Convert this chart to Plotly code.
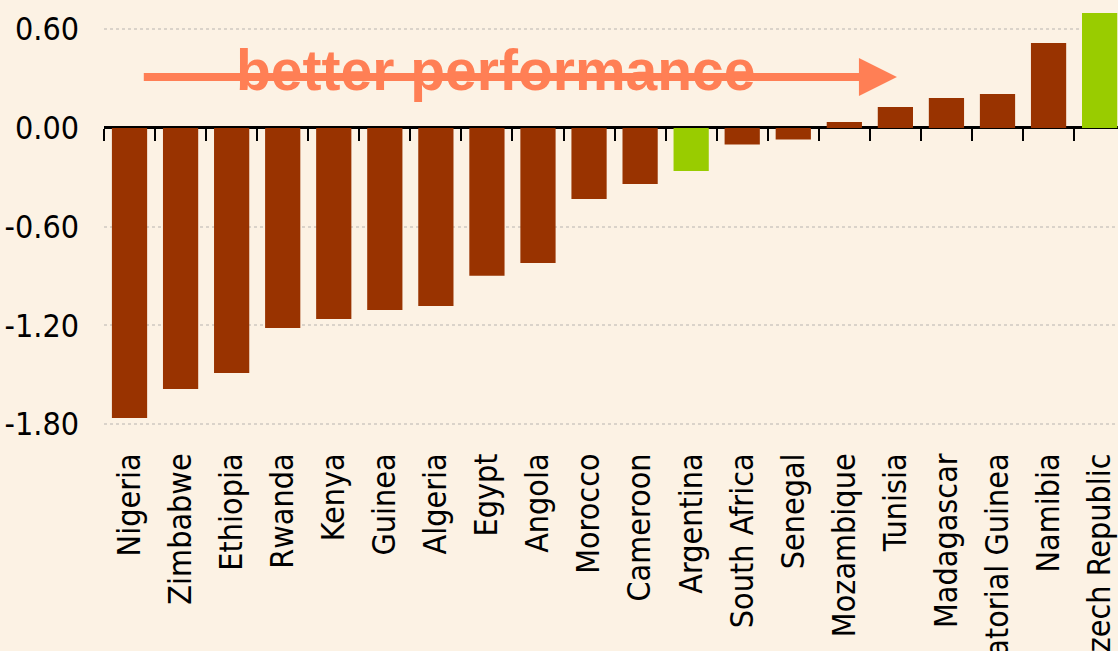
import plotly.graph_objects as go

COUNTRIES = ['Nigeria', 'Zimbabwe', 'Ethiopia', 'Rwanda', 'Kenya', 'Guinea', 'Algeria',
             'Egypt', 'Angola', 'Morocco', 'Cameroon', 'Argentina', 'South Africa',
             'Senegal', 'Mozambique', 'Tunisia', 'Madagascar', 'Equatorial Guinea',
             'Namibia', 'Czech Republic']
SCORES = [-1.763, -1.587, -1.489, -1.216, -1.161, -1.106, -1.082, -0.898, -0.821,
          -0.432, -0.340, -0.261, -0.100, -0.070, 0.036, 0.128, 0.182, 0.207,
          0.517, 0.699]
HIGHLIGHT = ['Argentina', 'Czech Republic']
Y_TICKS = [0.6, 0.0, -0.6, -1.2, -1.8]

BROWN = '#993300'
GREEN = '#99CC00'
CORAL = '#FF7F55'
BG = '#FCF2E4'
NARROW = 'Liberation Sans Narrow, Arial Narrow, DejaVu Sans Condensed, sans-serif'

colors = [GREEN if c in HIGHLIGHT else BROWN for c in COUNTRIES]

fig = go.Figure()
fig.add_trace(go.Bar(x=COUNTRIES, y=SCORES, marker_color=colors, marker_line_width=0,
                     width=0.69, hoverinfo='skip'))
# invisible copy on the second x axis, only so that its ticks sit on the zero line
fig.add_trace(go.Scatter(x=COUNTRIES, y=[0] * len(COUNTRIES), xaxis='x2', mode='markers',
                         marker_opacity=0, hoverinfo='skip', showlegend=False))

y_range = [-1.897, 0.778]
x_range = [-0.5, 19.36]
zero_pos = (0 - y_range[0]) / (y_range[1] - y_range[0])

# arrow then text on top
fig.add_annotation(x=15.03, y=0.31, ax=0.25, ay=0.31, xref='x', yref='y', axref='x', ayref='y',
                   showarrow=True, arrowhead=2, arrowsize=0.95, arrowwidth=8,
                   arrowcolor=CORAL, text='')
fig.add_annotation(x=7.18, y=0.35, xref='x', yref='y', showarrow=False,
                   text='<b>better performance</b>',
                   font=dict(family='Liberation Sans, Arial, sans-serif', size=57, color=CORAL))

fig.update_layout(
    width=1118, height=651,
    margin=dict(l=104, r=0, t=0, b=211),
    paper_bgcolor=BG, plot_bgcolor=BG,
    showlegend=False,
    xaxis=dict(type='category', range=x_range, showgrid=False, showline=False,
               zeroline=False, ticks='', tickangle=-90, automargin=False,
               ticklabelstandoff=6,
               tickfont=dict(family=NARROW, size=32, color='black')),
    xaxis2=dict(type='category', overlaying='x', anchor='free', position=zero_pos,
                side='bottom', range=x_range, matches='x', showgrid=False,
                showline=False, zeroline=False, showticklabels=False,
                ticks='outside', tickson='boundaries', ticklen=12, tickwidth=2,
                tickcolor='black'),
    yaxis=dict(range=y_range, tickvals=Y_TICKS, ticktext=[f'{v:.2f}' for v in Y_TICKS],
               showgrid=True, gridcolor='#DAD3CA', gridwidth=2, griddash='dot',
               zeroline=True, zerolinecolor='black', zerolinewidth=3,
               showline=False, ticks='', ticklabelstandoff=24, automargin=False,
               tickfont=dict(family=NARROW, size=32, color='black')),
)

fig.write_html('out.html', config={'displayModeBar': False},
               post_script="document.body.style.margin='0';")
